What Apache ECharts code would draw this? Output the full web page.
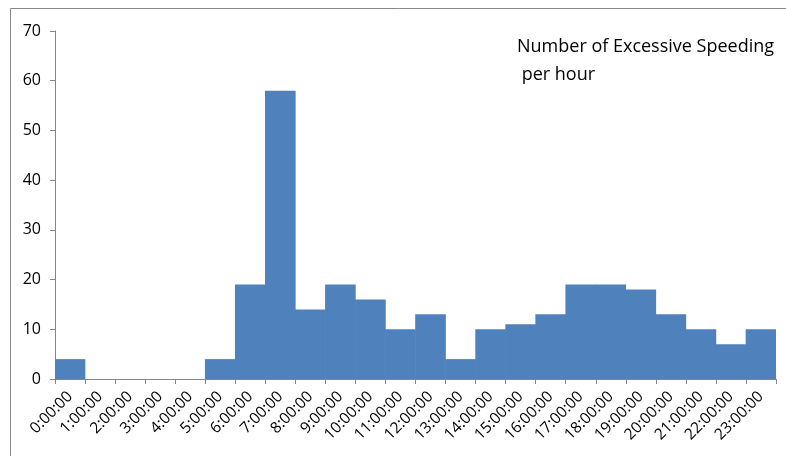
<!DOCTYPE html>
<html>
<head>
<meta charset="utf-8">
<script src="https://cdn.jsdelivr.net/npm/echarts@6/dist/echarts.min.js"></script>
<style>
  html, body { margin: 0; padding: 0; background: #fff; }
  #chart { width: 786px; height: 456px; }
</style>
</head>
<body>
<div id="chart"></div>
<script>
// Hourly buckets and counts of excessive speeding events
const hours = [
  '0:00:00', '1:00:00', '2:00:00', '3:00:00', '4:00:00', '5:00:00',
  '6:00:00', '7:00:00', '8:00:00', '9:00:00', '10:00:00', '11:00:00',
  '12:00:00', '13:00:00', '14:00:00', '15:00:00', '16:00:00', '17:00:00',
  '18:00:00', '19:00:00', '20:00:00', '21:00:00', '22:00:00', '23:00:00'
];
const counts = [4, 0, 0, 0, 0, 4, 19, 58, 14, 19, 16, 10, 13, 4, 10, 11, 13, 19, 19, 18, 13, 10, 7, 10];
const yMin = 0, yMax = 70, yStep = 10;

const chart = echarts.init(document.getElementById('chart'), null, { renderer: 'canvas' });
chart.setOption({
  animation: false,
  backgroundColor: '#ffffff',
  graphic: [
    {
      type: 'rect',
      shape: { x: 10.5, y: 8.5, width: 800, height: 500 },
      style: { fill: 'none', stroke: '#898989', lineWidth: 1 },
      silent: true
    }
  ],
  title: {
    text: 'Number of Excessive Speeding\n per hour',
    left: 512,
    top: 28,
    textStyle: {
      fontFamily: 'Open Sans',
      fontSize: 18,
      fontWeight: 'normal',
      color: '#000000',
      lineHeight: 28
    }
  },
  grid: { left: 55, right: 10, top: 31, bottom: 77, containLabel: false },
  xAxis: {
    type: 'category',
    data: hours,
    boundaryGap: true,
    axisLine: { show: true, lineStyle: { color: '#868686', width: 1 } },
    axisTick: { show: true, alignWithLabel: false, length: 5, lineStyle: { color: '#868686' } },
    axisLabel: {
      interval: 0,
      rotate: 45,
      margin: 15,
      fontFamily: 'Open Sans',
      fontSize: 15.5,
      color: '#000000'
    },
    splitLine: { show: false }
  },
  yAxis: {
    type: 'value',
    min: yMin,
    max: yMax,
    interval: yStep,
    axisLine: { show: true, lineStyle: { color: '#868686', width: 1 } },
    axisTick: { show: true, length: 5, lineStyle: { color: '#868686' } },
    axisLabel: {
      margin: 14,
      fontFamily: 'Open Sans',
      fontSize: 16,
      color: '#000000'
    },
    splitLine: { show: false }
  },
  series: [
    {
      type: 'bar',
      data: counts,
      barWidth: '102%',
      itemStyle: { color: '#4F81BD' }
    }
  ]
});
</script>
</body>
</html>
